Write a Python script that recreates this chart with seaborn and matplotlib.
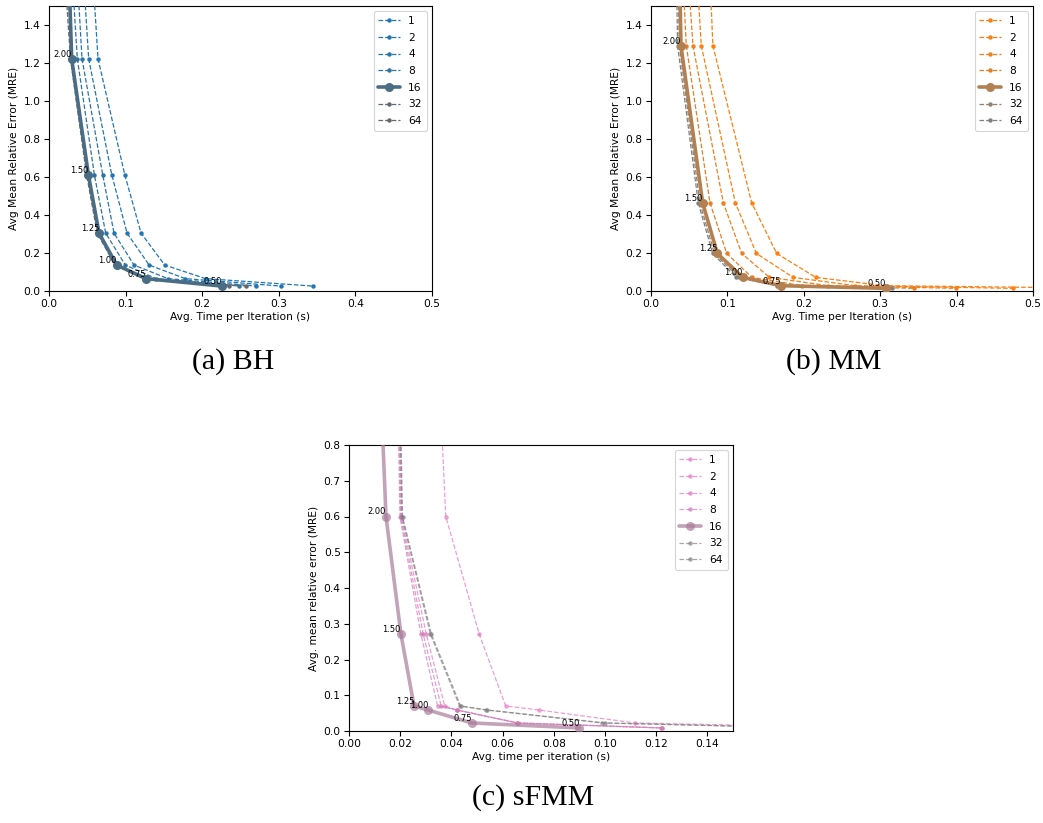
import numpy as np
import matplotlib
matplotlib.use("Agg")
import matplotlib.pyplot as plt
import matplotlib.colors as mcolors
import seaborn as sns

# Opening angle (theta) used for each measured point, from coarsest to finest
theta = [2.50, 2.00, 1.50, 1.25, 1.00, 0.75, 0.50]
leaf_sizes = [1, 2, 4, 8, 16, 32, 64]

# ---- Barnes-Hut ----
bh_mre = [2.0, 1.222, 0.6125, 0.3045, 0.1365, 0.065, 0.026]
bh_time = {
    1:  [0.0519, 0.0640, 0.0989, 0.1202, 0.1511, 0.2045, 0.3445],
    2:  [0.0397, 0.0518, 0.0819, 0.1019, 0.1307, 0.1780, 0.3024],
    4:  [0.0320, 0.0431, 0.0701, 0.0849, 0.1110, 0.1553, 0.2700],
    8:  [0.0249, 0.0370, 0.0592, 0.0740, 0.0997, 0.1400, 0.2480],
    16: [0.0234, 0.0296, 0.0514, 0.0653, 0.0884, 0.1266, 0.2256],
    32: [0.0210, 0.0290, 0.0500, 0.0640, 0.0870, 0.1250, 0.2350],
    64: [0.0153, 0.0280, 0.0490, 0.0630, 0.0860, 0.1240, 0.2570],
}

# ---- Multipole method ----
mm_mre = [2.0, 1.2915, 0.4638, 0.1978, 0.0718, 0.028, 0.014]
mm_time = {
    1:  [0.0735, 0.0810, 0.1318, 0.1645, 0.2156, 0.3050, 0.6100],
    2:  [0.0552, 0.0658, 0.1104, 0.1379, 0.1860, 0.2670, 0.4740],
    4:  [0.0430, 0.0549, 0.0947, 0.1187, 0.1550, 0.2320, 0.3990],
    8:  [0.0373, 0.0462, 0.0772, 0.0991, 0.1320, 0.1980, 0.3445],
    16: [0.0360, 0.0392, 0.0676, 0.0868, 0.1200, 0.1703, 0.3070],
    32: [0.0340, 0.0370, 0.0640, 0.0830, 0.1150, 0.1670, 0.3100],
    64: [0.0320, 0.0348, 0.0619, 0.0807, 0.1113, 0.1650, 0.3160],
}

# ---- sFMM ----
sfmm_mre = [2.0, 0.600, 0.2705, 0.070, 0.0587, 0.0225, 0.0085]
sfmm_time = {
    1:  [0.0287, 0.0378, 0.0509, 0.0612, 0.0742, 0.1118, 0.2050],
    2:  [0.0170, 0.0205, 0.0302, 0.0374, 0.0423, 0.0661, 0.1224],
    4:  [0.0165, 0.0199, 0.0281, 0.0346, 0.0420, 0.0655, 0.1220],
    8:  [0.0168, 0.0202, 0.0290, 0.0360, 0.0422, 0.0658, 0.1222],
    16: [0.0064, 0.01445, 0.0203, 0.0254, 0.0309, 0.0479, 0.0900],
    32: [0.0170, 0.0207, 0.0318, 0.0432, 0.0537, 0.0990, 0.1800],
    64: [0.0172, 0.0209, 0.0322, 0.0436, 0.0541, 0.1000, 0.1830],
}

sns.set_theme(style="ticks")
plt.rcParams.update({
    "axes.edgecolor": "black",
    "axes.labelcolor": "black",
    "text.color": "black",
    "axes.linewidth": 0.8,
    "xtick.color": "black",
    "ytick.color": "black",
    "xtick.major.size": 3.5,
    "ytick.major.size": 3.5,
    "xtick.major.width": 0.8,
    "ytick.major.width": 0.8,
    "font.size": 7.7,
})
plt.rcParams["font.family"] = ["DejaVu Sans"]

FS = 7.7
# how far each leaf size's colour is pulled from the method colour towards grey
GRAY_MIX = [0.0, 0.03, 0.1, 0.2, 0.6, 0.85, 1.0]


def blend(base, gray, t):
    b = np.array(mcolors.to_rgb(base))
    g = np.array(mcolors.to_rgb(gray))
    return tuple(b + (g - b) * t)


def panel(ax, times, mre, base, gray, alpha, xlabel, ylabel, xlim, ylim,
          xticks, yticks, xfmt):
    for i, leaf in enumerate(leaf_sizes):
        col = blend(base, gray, GRAY_MIX[i])
        x = times[leaf]
        if leaf == 16:
            sns.lineplot(x=x, y=mre, ax=ax, sort=False, estimator=None,
                         color=col, alpha=alpha, linewidth=2.6, marker="o",
                         markersize=6.5, markeredgewidth=0, label=str(leaf),
                         zorder=5)
        else:
            sns.lineplot(x=x, y=mre, ax=ax, sort=False, estimator=None,
                         color=col, alpha=alpha, linewidth=0.9,
                         linestyle="--", marker="o", markersize=3.2,
                         markeredgewidth=0, label=str(leaf), zorder=3)
    # theta labels on the leaf-size-16 curve
    for th, x, y in zip(theta, times[16], mre):
        if y <= ylim[1]:
            ax.annotate(f"{th:.2f}", (x, y), ha="right", va="bottom",
                        fontsize=6.0, zorder=6)
    ax.set_xlim(*xlim)
    ax.set_ylim(*ylim)
    ax.set_xticks(xticks)
    ax.set_yticks(yticks)
    ax.set_xticklabels([xfmt.format(v) for v in xticks], fontsize=FS)
    ax.set_yticklabels([f"{v:.1f}" for v in yticks], fontsize=FS)
    ax.set_xlabel(xlabel, fontsize=FS, labelpad=2)
    ax.set_ylabel(ylabel, fontsize=FS, labelpad=3)
    ax.tick_params(pad=2.5)
    leg = ax.legend(loc="upper right", fontsize=FS, frameon=True,
                    handlelength=2.0, borderpad=0.45, labelspacing=0.62)
    leg.get_frame().set_edgecolor("#cccccc")
    leg.get_frame().set_linewidth(0.8)


W, H = 1043, 823
fig = plt.figure(figsize=(W / 100, H / 100), dpi=100)
fig.patch.set_facecolor("white")


def box(l, t, r, b):
    return [l / W, 1 - b / H, (r - l) / W, (b - t) / H]


ax_a = fig.add_axes(box(49, 6, 432, 291))
ax_b = fig.add_axes(box(651, 6, 1033, 291))
ax_c = fig.add_axes(box(349, 445, 733, 731))

panel(ax_a, bh_time, bh_mre, "#1f77b4", "#666666", 1.0,
      "Avg. Time per Iteration (s)", "Avg Mean Relative Error (MRE)",
      (0, 0.5), (0, 1.5), np.arange(0, 0.51, 0.1), np.arange(0, 1.41, 0.2),
      "{:.1f}")
panel(ax_b, mm_time, mm_mre, "#ff7f0e", "#808080", 1.0,
      "Avg. Time per Iteration (s)", "Avg Mean Relative Error (MRE)",
      (0, 0.5), (0, 1.5), np.arange(0, 0.51, 0.1), np.arange(0, 1.41, 0.2),
      "{:.1f}")
panel(ax_c, sfmm_time, sfmm_mre, "#e377c2", "#808080", 0.7,
      "Avg. time per iteration (s)", "Avg. mean relative error (MRE)",
      (0, 0.15), (0, 0.8), np.arange(0, 0.141, 0.02), np.arange(0, 0.81, 0.1),
      "{:.2f}")

cap = dict(ha="center", va="center", fontsize=21.5, color="black",
           family=["Liberation Serif"])
fig.text(233 / W, 1 - 362 / H, "(a) BH", **cap)
fig.text(834 / W, 1 - 362 / H, "(b) MM", **cap)
fig.text(533 / W, 1 - 798 / H, "(c) sFMM", **cap)

fig.savefig("out.png", dpi=100, facecolor="white")
